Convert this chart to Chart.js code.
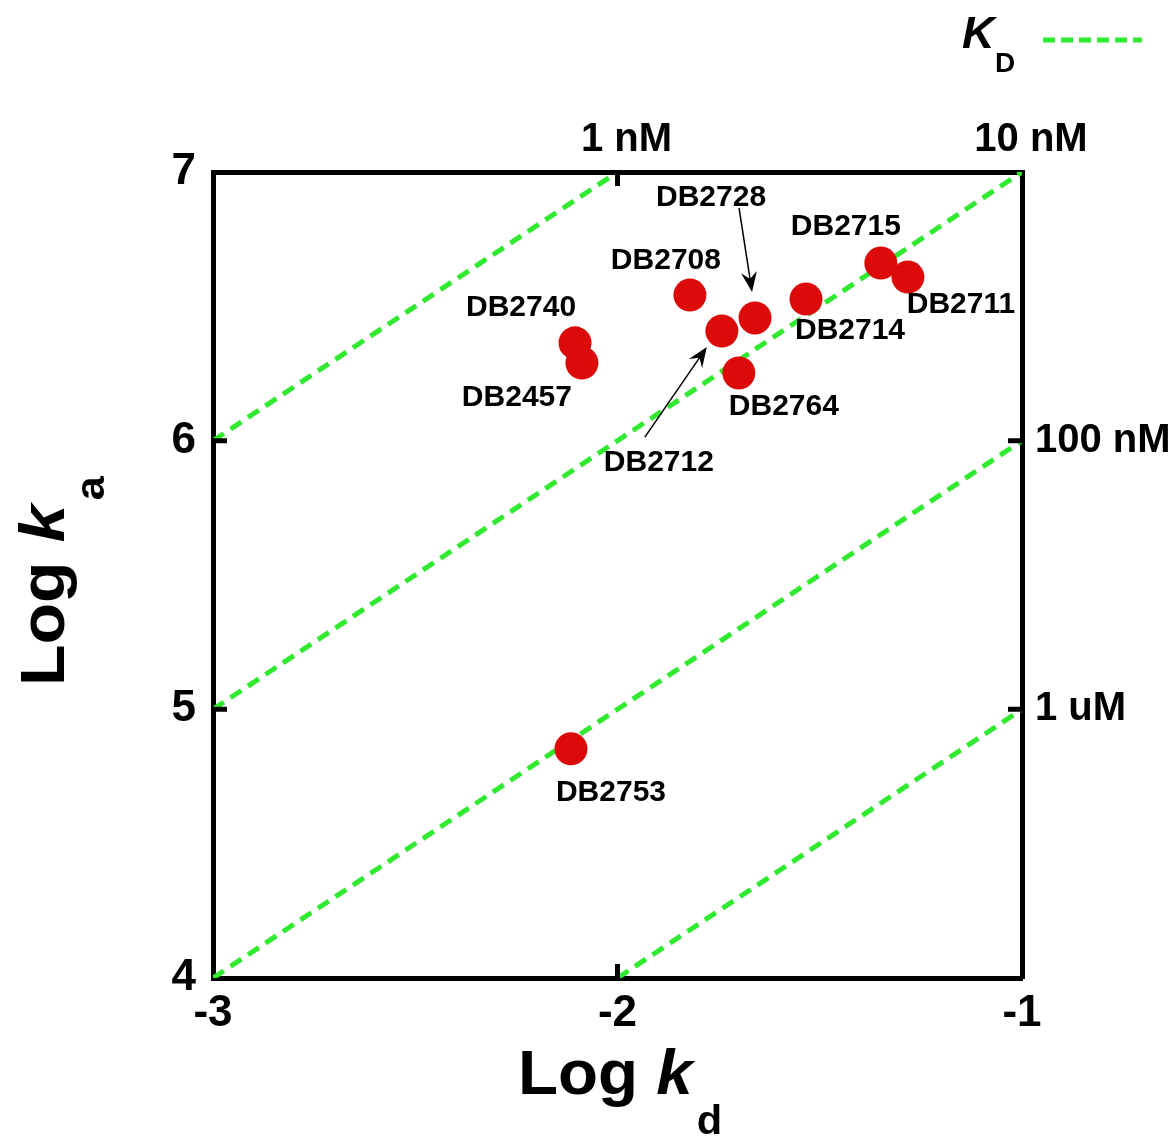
<!DOCTYPE html>
<html>
<head>
<meta charset="utf-8">
<script src="https://cdn.jsdelivr.net/npm/chart.js@4.4.1/dist/chart.umd.min.js"></script>
<style>
  html, body { margin: 0; padding: 0; background: #fff; }
  canvas { display: block; }
</style>
</head>
<body>
<canvas id="kinChart" width="1173" height="1137"></canvas>
<script>
// compounds and their kinetic constants (log units)
const compounds = ['DB2740', 'DB2457', 'DB2708', 'DB2712', 'DB2728', 'DB2764', 'DB2714', 'DB2715', 'DB2711', 'DB2753'];
const logKd = [-2.105, -2.088, -1.821, -1.742, -1.660, -1.700, -1.534, -1.349, -1.282, -2.115];
const logKa = [6.364, 6.289, 6.542, 6.408, 6.457, 6.252, 6.527, 6.661, 6.609, 4.853];

// iso-KD lines (end points in log kd / log ka)
const kdLineNames = ['1 nM', '10 nM', '100 nM', '1 uM'];
const kdLineX = [[-3, -2], [-3, -1], [-3, -1], [-2, -1]];
const kdLineY = [[6, 7], [5, 7], [4, 6], [4, 5]];

// axis ticks
const kdTicks = [-3, -2, -1];
const kaTicks = [4, 5, 6, 7];
const topTicks = [-2, -1];
const topLabels = ['1 nM', '10 nM'];
const rightTicks = [5, 6];
const rightLabels = ['1 uM', '100 nM'];

// label placement around each point (px) and the two arrows
const labelOffsets = [[-54, -35], [-65, 35], [-24, -34], [-63, 132], [-44, -120], [45, 34], [44, 32], [-35, -36], [53, 28], [40, 44]];
const arrows = { DB2728: [[-16, -110], [-3, -26]], DB2712: [[-77, 106], [-15, 16]] };

const FONT = "'Liberation Sans', Arial, sans-serif";
const GREEN = '#30ea30';
const RED = '#dd0a0a';

const pointData = compounds.map((c, i) => ({ x: logKd[i], y: logKa[i] }));

const lineSets = kdLineNames.map((name, i) => ({
    label: name,
    data: [{ x: kdLineX[i][0], y: kdLineY[i][0] }, { x: kdLineX[i][1], y: kdLineY[i][1] }],
    showLine: true,
    borderColor: GREEN,
    borderWidth: 5,
    borderDash: [13, 8],
    pointRadius: 0,
    order: 1
}));

function fixSize(prop, val) {
    return function (scale) { scale[prop] = val; };
}

function setTicks(values) {
    return function (scale) { scale.ticks = values.map(v => ({ value: v })); };
}

// "Log k" + subscript, drawn from a baseline origin
function drawLogTitle(ctx, sub, stretch) {
    ctx.scale(stretch, 1);
    ctx.textAlign = 'left';
    ctx.textBaseline = 'alphabetic';
    ctx.font = 'bold 63px ' + FONT;
    ctx.fillText('Log ', 0, 0);
    let w = ctx.measureText('Log ').width;
    ctx.font = 'italic bold 63px ' + FONT;
    ctx.fillText('k', w, 0);
    w += ctx.measureText('k').width + 4;
    ctx.font = 'bold 40px ' + FONT;
    ctx.fillText(sub, w, 40);
}

function drawArrow(ctx, x1, y1, x2, y2) {
    const ang = Math.atan2(y2 - y1, x2 - x1);
    ctx.beginPath();
    ctx.moveTo(x1, y1);
    ctx.lineTo(x2 - 8 * Math.cos(ang), y2 - 8 * Math.sin(ang));
    ctx.lineWidth = 1.5;
    ctx.stroke();
    ctx.save();
    ctx.translate(x2, y2);
    ctx.rotate(ang);
    ctx.beginPath();
    ctx.moveTo(0, 0);
    ctx.lineTo(-20, -8);
    ctx.lineTo(-13, 0);
    ctx.lineTo(-20, 8);
    ctx.closePath();
    ctx.fill();
    ctx.restore();
}

const decorPlugin = {
    id: 'decor',
    afterDraw(chart) {
        const ctx = chart.ctx;
        const xs = chart.scales.x, ys = chart.scales.y;
        const area = chart.chartArea;
        ctx.save();
        ctx.fillStyle = '#000';
        ctx.strokeStyle = '#000';

        // inward tick marks
        ctx.lineWidth = 5;
        ctx.beginPath();
        const xm = xs.getPixelForValue(-2);
        ctx.moveTo(xm, area.bottom); ctx.lineTo(xm, area.bottom - 14);
        ctx.moveTo(xm, area.top); ctx.lineTo(xm, area.top + 14);
        [5, 6].forEach(v => {
            const yp = ys.getPixelForValue(v);
            ctx.moveTo(area.left, yp); ctx.lineTo(area.left + 14, yp);
            ctx.moveTo(area.right, yp); ctx.lineTo(area.right - 14, yp);
        });
        ctx.stroke();

        // compound labels and arrows
        ctx.font = 'bold 30px ' + FONT;
        ctx.textAlign = 'center';
        ctx.textBaseline = 'middle';
        compounds.forEach((name, i) => {
            const px = xs.getPixelForValue(logKd[i]);
            const py = ys.getPixelForValue(logKa[i]);
            ctx.fillText(name, px + labelOffsets[i][0], py + labelOffsets[i][1]);
            const a = arrows[name];
            if (a) drawArrow(ctx, px + a[0][0], py + a[0][1], px + a[1][0], py + a[1][1]);
        });

        // axis titles
        ctx.save();
        ctx.translate(518, 1094);
        drawLogTitle(ctx, 'd', 1.04);
        ctx.restore();
        ctx.save();
        ctx.translate(64, 686);
        ctx.rotate(-Math.PI / 2);
        drawLogTitle(ctx, 'a', 1.08);
        ctx.restore();

        // legend
        ctx.textAlign = 'left';
        ctx.textBaseline = 'alphabetic';
        ctx.font = 'italic bold 45px ' + FONT;
        ctx.fillText('K', 962, 48);
        ctx.font = 'bold 28px ' + FONT;
        ctx.fillText('D', 995, 72);
        ctx.strokeStyle = GREEN;
        ctx.lineWidth = 5;
        ctx.setLineDash([12, 6]);
        ctx.beginPath();
        ctx.moveTo(1043, 40); ctx.lineTo(1142, 40);
        ctx.stroke();
        ctx.restore();
    }
};

const tickFont = { family: FONT, size: 44, weight: 'bold' };
const sideFont = { family: FONT, size: 40, weight: 'bold' };
const edge = { display: true, color: '#000', width: 5 };
const noGrid = { display: false, drawTicks: false };

new Chart(document.getElementById('kinChart'), {
    type: 'scatter',
    data: {
        datasets: [{
            label: 'compounds',
            data: pointData,
            backgroundColor: RED,
            borderWidth: 0,
            pointRadius: 16.5,
            pointHoverRadius: 16.5,
            order: 0
        }].concat(lineSets)
    },
    options: {
        responsive: false,
        animation: false,
        events: [],
        layout: { padding: 0 },
        plugins: { legend: { display: false }, tooltip: { enabled: false } },
        scales: {
            x: {
                type: 'linear', position: 'bottom', min: -3, max: -1,
                afterBuildTicks: setTicks(kdTicks),
                afterFit: fixSize('height', 159),
                grid: noGrid, border: edge,
                ticks: { font: tickFont, color: '#000', padding: 9, maxRotation: 0, callback: v => String(v) }
            },
            y: {
                type: 'linear', position: 'left', min: 4, max: 7,
                afterBuildTicks: setTicks(kaTicks),
                afterFit: fixSize('width', 213),
                grid: noGrid, border: edge,
                ticks: { font: tickFont, color: '#000', padding: 17, callback: v => String(v) }
            },
            x2: {
                type: 'linear', position: 'top', min: -3, max: -1,
                afterBuildTicks: setTicks(topTicks),
                afterFit: fixSize('height', 172),
                grid: noGrid, border: edge,
                ticks: { font: sideFont, color: '#000', padding: 8, labelOffset: 9, maxRotation: 0,
                         callback: v => topLabels[topTicks.indexOf(v)] }
            },
            y2: {
                type: 'linear', position: 'right', min: 4, max: 7,
                afterBuildTicks: setTicks(rightTicks),
                afterFit: fixSize('width', 151),
                grid: noGrid, border: edge,
                ticks: { font: sideFont, color: '#000', padding: 13,
                         callback: v => rightLabels[rightTicks.indexOf(v)] }
            }
        }
    },
    plugins: [decorPlugin]
});
</script>
</body>
</html>
